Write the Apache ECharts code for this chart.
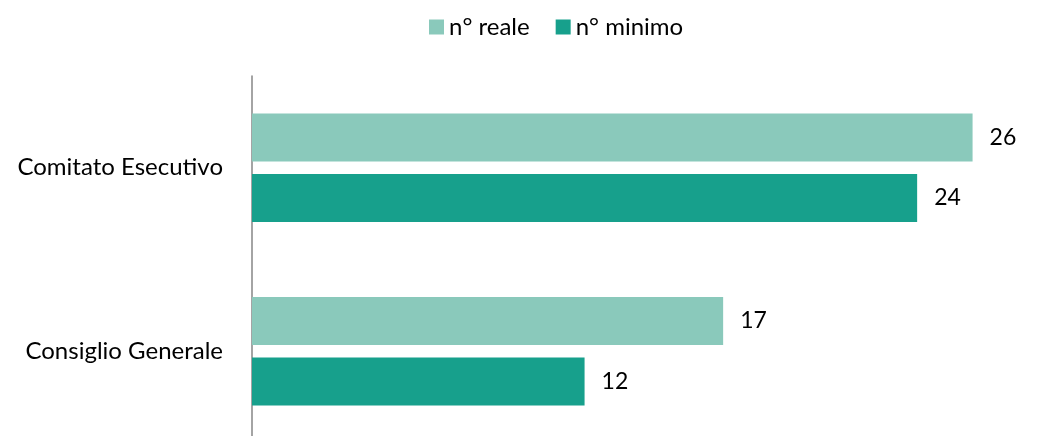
<!DOCTYPE html>
<html>
<head>
<meta charset="utf-8">
<script src="https://cdn.jsdelivr.net/npm/echarts@6/dist/echarts.min.js"></script>
<style>
  html, body { margin: 0; padding: 0; background: #fff; }
  #main { width: 1047px; height: 436px; }
</style>
</head>
<body>
<div id="main"></div>
<script>
// categories, top to bottom
const categories = ['Comitato Esecutivo', 'Consiglio Generale'];
const nReale = [26, 17];
const nMinimo = [24, 12];

const FONT = 'Lato';
const chart = echarts.init(document.getElementById('main'));

const labelStyle = {
  show: true,
  position: 'right',
  distance: 17,
  color: '#000',
  fontFamily: FONT,
  fontSize: 23
};

chart.setOption({
  animation: false,
  textStyle: { fontFamily: FONT },
  legend: {
    top: 10,
    left: 424,
    itemWidth: 15,
    itemHeight: 15,
    itemGap: 26,
    icon: 'rect',
    textStyle: { fontSize: 24, color: '#000', fontFamily: FONT },
    data: ['n° reale', 'n° minimo']
  },
  grid: { left: 252, right: 19, top: 76, height: 367, outerBoundsMode: 'none', containLabel: false },
  xAxis: {
    type: 'value',
    min: 0,
    max: 28,
    show: false
  },
  yAxis: {
    type: 'category',
    inverse: true,
    data: categories,
    axisLine: { show: true, lineStyle: { color: '#868686', width: 1.5 } },
    axisTick: { show: false },
    axisLabel: { color: '#000', fontSize: 24, fontFamily: FONT, margin: 29 }
  },
  series: [
    {
      name: 'n° reale',
      type: 'bar',
      data: nReale,
      barWidth: 48,
      barGap: '26%',
      itemStyle: { color: '#8AC9BB' },
      label: labelStyle
    },
    {
      name: 'n° minimo',
      type: 'bar',
      data: nMinimo,
      barWidth: 48,
      barGap: '26%',
      itemStyle: { color: '#17A08C' },
      label: labelStyle
    }
  ]
});
</script>
</body>
</html>
